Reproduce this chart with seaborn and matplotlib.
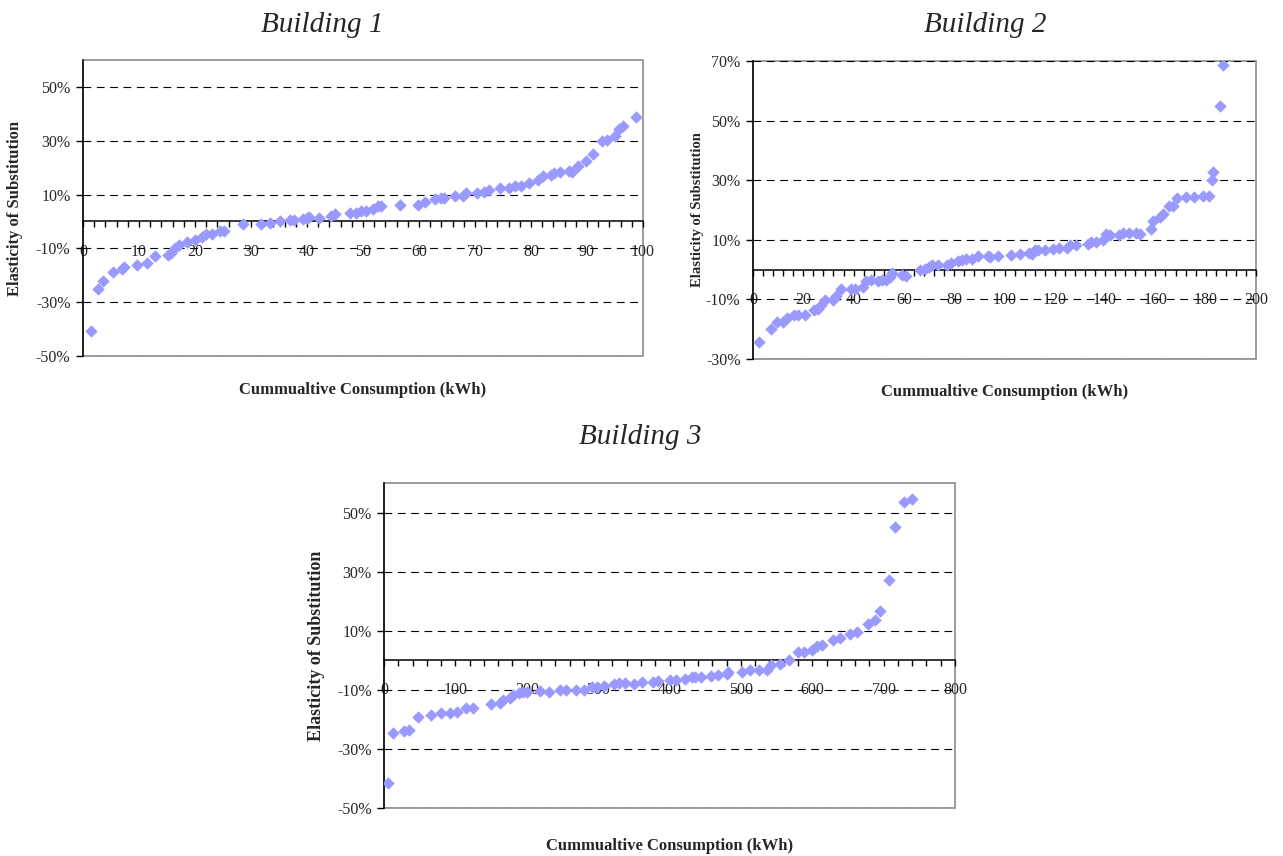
import matplotlib
matplotlib.use("Agg")
import matplotlib.pyplot as plt
from matplotlib.patches import Rectangle
from matplotlib.ticker import MultipleLocator, FuncFormatter, FixedLocator
import seaborn as sns

# Building 1: cumulative consumption (kWh) vs elasticity of substitution (%)
b1_x = [1.4, 2.7, 3.6, 5.4, 6.9, 7.4, 9.6, 11.4, 12.9, 15.1, 15.7, 16.4, 17.2, 18.5, 20.0,
        21.2, 22.0, 23.0, 24.5, 25.2, 28.6, 31.8, 33.4, 35.1, 37.0, 37.6, 39.2, 40.0, 40.4,
        42.1, 44.2, 45.0, 47.6, 48.8, 49.6, 50.5, 51.8, 52.7, 53.3, 56.6, 59.9, 61.0, 62.9,
        63.9, 64.5, 66.4, 67.8, 68.4, 70.3, 71.6, 72.5, 74.5, 76.0, 77.2, 78.3, 79.7, 81.3,
        82.2, 83.5, 84.1, 85.1, 86.7, 87.3, 88.4, 89.8, 91.1, 92.6, 93.6, 95.0, 95.8, 96.4, 98.7]
b1_y = [-40.6, -25.2, -22.0, -18.7, -17.5, -17.0, -16.3, -15.5, -12.8, -12.3, -11.8, -9.9, -8.7,
        -7.7, -6.8, -5.6, -4.8, -4.7, -3.7, -3.4, -0.9, -1.0, -0.6, 0.1, 0.5, 0.5, 0.9, 1.4, 1.5,
        1.4, 2.2, 2.7, 3.2, 3.2, 3.7, 3.7, 4.8, 5.6, 5.6, 6.0, 6.3, 7.4, 8.3, 8.7, 8.7, 9.4, 9.4,
        10.6, 10.6, 10.9, 11.8, 12.3, 12.4, 13.3, 13.3, 14.4, 15.4, 17.0, 17.1, 17.9, 18.2, 18.6,
        18.5, 20.6, 22.6, 25.1, 29.8, 30.3, 31.9, 34.4, 35.5, 39.0]

# Building 2
b2_x = [2.4, 7.3, 9.7, 11.9, 13.5, 16.2, 18.0, 20.8, 24.3, 25.8, 26.9, 28.5, 31.8, 33.1, 35.1,
        39.1, 40.4, 43.7, 45.1, 47.1, 49.7, 51.4, 53.0, 54.3, 55.4, 59.2, 60.7, 66.5, 68.3, 70.0,
        71.3, 73.6, 77.3, 78.9, 81.5, 83.2, 84.8, 87.2, 89.4, 93.5, 94.4, 97.4, 102.5, 106.0,
        109.7, 111.1, 112.1, 113.3, 116.0, 119.3, 121.7, 124.9, 125.9, 128.3, 133.2, 134.5,
        136.3, 139.2, 140.5, 142.1, 145.6, 147.1, 149.5, 152.4, 153.8, 158.2, 159.1, 161.7,
        163.1, 165.5, 167.0, 168.7, 172.3, 175.4, 178.9, 181.2, 182.6, 182.9, 185.8, 186.9]
b2_y = [-24.3, -19.8, -17.6, -17.6, -16.4, -15.3, -15.1, -15.1, -13.6, -13.1, -12.0, -10.3, -10.1,
        -8.8, -6.4, -6.4, -6.4, -6.0, -3.9, -3.6, -3.8, -3.6, -3.4, -2.5, -1.3, -1.9, -2.2, -0.2,
        0.3, 0.9, 1.5, 1.5, 1.5, 2.3, 2.8, 3.1, 3.4, 3.6, 4.5, 4.5, 4.3, 4.5, 5.0, 5.4, 5.6, 5.4,
        6.5, 6.7, 6.7, 7.0, 7.3, 7.4, 8.4, 8.4, 8.7, 9.3, 9.1, 10.1, 11.9, 11.7, 11.7, 12.3, 12.3,
        12.3, 12.1, 13.5, 16.3, 17.7, 18.8, 21.3, 21.3, 24.0, 24.4, 24.4, 24.7, 24.7, 30.0, 32.8,
        54.9, 68.6]

# Building 3
b3_x = [6.1, 13.1, 28.0, 35.0, 47.7, 65.4, 80.4, 92.1, 102.8, 114.5, 124.8, 149.5, 162.1, 166.8,
        176.6, 181.3, 189.3, 195.3, 200.9, 218.7, 231.3, 246.7, 254.7, 269.6, 280.4, 291.1, 299.1,
        308.4, 322.4, 329.4, 337.4, 349.6, 360.9, 376.3, 383.3, 401.1, 409.0, 422.1, 431.0, 435.7,
        444.2, 458.2, 467.6, 480.7, 482.5, 501.2, 513.4, 526.0, 536.3, 542.4, 555.5, 568.1, 579.8,
        588.2, 599.4, 606.9, 613.5, 628.9, 638.3, 652.3, 663.1, 678.0, 687.4, 694.4, 707.1, 716.4,
        728.6, 739.8]
b3_y = [-41.7, -24.6, -24.0, -23.5, -19.3, -18.4, -17.8, -17.8, -17.5, -16.3, -16.3, -14.8, -14.5,
        -13.3, -12.8, -11.7, -11.1, -10.9, -10.8, -10.5, -10.8, -10.2, -10.2, -10.2, -10.0, -9.1,
        -9.1, -8.6, -7.9, -7.7, -7.7, -7.9, -7.5, -7.5, -6.9, -6.6, -6.6, -6.4, -5.7, -5.7, -5.7,
        -5.2, -4.9, -4.6, -4.1, -3.8, -3.4, -3.4, -3.4, -1.5, -1.3, 0.2, 2.8, 2.8, 3.5, 4.9, 5.2,
        6.9, 7.5, 9.0, 9.7, 12.3, 13.5, 16.7, 27.2, 45.2, 53.7, 54.6]

titles = ["Building 1", "Building 2", "Building 3"]
x_label = "Cummualtive Consumption (kWh)"
y_label = "Elasticity of Substitution"

sns.set_style("white")
plt.rcParams["font.family"] = ["Liberation Serif", "DejaVu Serif"]

W, H = 1283, 856
fig = plt.figure(figsize=(W / 100, H / 100), dpi=100)
fig.patch.set_facecolor("white")

MARKER_COLOR = "#9999FF"


def px_axes(left, top, right, bottom):
    return fig.add_axes([left / W, 1 - bottom / H, (right - left) / W, (bottom - top) / H])


def draw_panel(ax, xs, ys, xmax, xmajor, xminor, ylo, yhi, ylab_size, xlab_y, ylab_x):
    sns.scatterplot(x=xs, y=ys, ax=ax, marker="D", color=MARKER_COLOR, s=40,
                    linewidth=0, zorder=3, legend=False)
    ax.set_xlim(0, xmax)
    ax.set_ylim(ylo, yhi)

    # dashed horizontal gridlines at the labelled percentages
    yt = list(range(ylo, yhi + 1, 20)) if (yhi - ylo) % 20 == 0 else list(range(ylo, yhi, 20))
    for v in yt:
        ax.axhline(v, color="black", lw=0.8, ls=(0, (7, 5)), zorder=1)
    ax.yaxis.set_major_locator(FixedLocator(yt))
    ax.yaxis.set_major_formatter(FuncFormatter(lambda v, p: f"{v:.0f}%"))

    # x axis crosses at zero
    ax.xaxis.set_major_locator(MultipleLocator(xmajor))
    ax.xaxis.set_minor_locator(MultipleLocator(xminor))
    ax.xaxis.set_major_formatter(FuncFormatter(lambda v, p: f"{v:.0f}"))
    ax.spines["bottom"].set_position(("data", 0))
    ax.spines["bottom"].set_color("black")
    ax.spines["bottom"].set_linewidth(1.1)
    ax.spines["left"].set_color("black")
    ax.spines["left"].set_linewidth(1.1)
    for s in ("top", "right"):
        ax.spines[s].set_visible(False)
    ax.add_patch(Rectangle((0, 0), 1, 1, transform=ax.transAxes, fill=False,
                           edgecolor="#8c8c8c", lw=1.2, clip_on=False, zorder=0))

    ax.tick_params(axis="x", which="both", direction="out", length=4, width=1,
                   color="black", labelsize=11.5, pad=12, bottom=True)
    ax.tick_params(axis="y", which="major", direction="out", length=5, width=1,
                   color="black", labelsize=11.5, pad=4, left=True)
    ax.grid(False)

    ax.set_xlabel(x_label, fontsize=12, fontweight="bold")
    ax.xaxis.set_label_coords(0.5, xlab_y)
    ax.xaxis.label.set_va("center")
    ax.set_ylabel(y_label, fontsize=ylab_size, fontweight="bold")
    ax.yaxis.set_label_coords(ylab_x, 0.5)
    ax.yaxis.label.set_va("center")


ax1 = px_axes(83, 60, 643, 356)
draw_panel(ax1, b1_x, b1_y, 100, 10, 2, -50, 60, 12, -0.115, -0.121)
ax2 = px_axes(753, 61, 1256, 359)
draw_panel(ax2, b2_x, b2_y, 200, 20, 4, -30, 70, 10.5, -0.111, -0.111)
ax3 = px_axes(384, 483, 955, 808)
draw_panel(ax3, b3_x, b3_y, 800, 100, 20, -50, 60, 13, -0.117, -0.119)

# panel titles
for (tx, ty), t in zip([(322, 25), (985, 25), (640, 437)], titles):
    fig.text(tx / W, 1 - ty / H, t, ha="center", va="center", fontsize=21,
             fontstyle="italic")

fig.savefig("out.png", dpi=100, facecolor="white")
